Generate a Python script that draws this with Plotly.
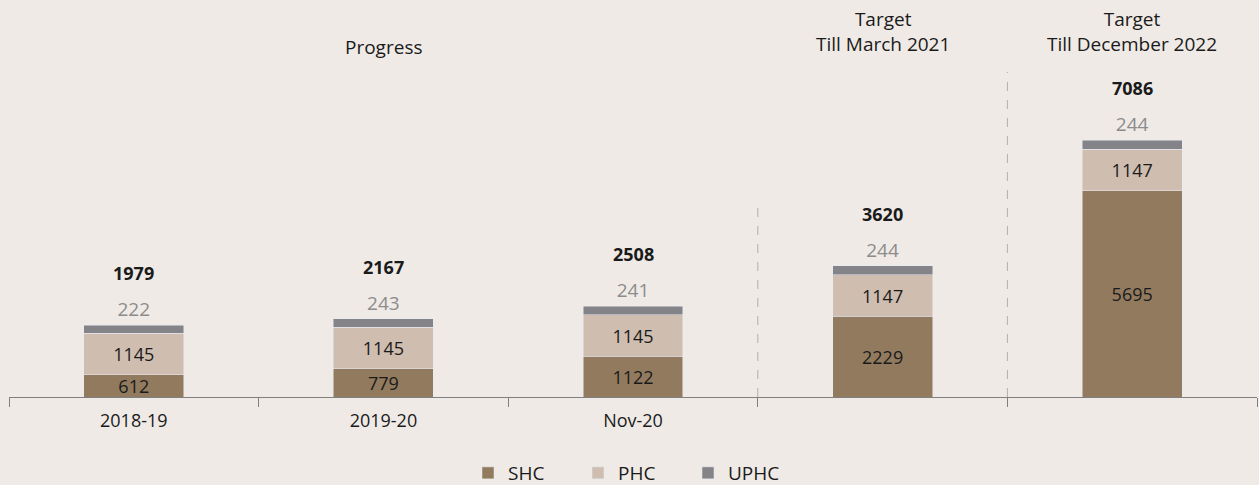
import plotly.graph_objects as go

categories = ["2018-19", "2019-20", "Nov-20", "", ""]
shc = [612, 779, 1122, 2229, 5695]
phc = [1145, 1145, 1145, 1147, 1147]
uphc = [222, 243, 241, 244, 244]
totals = [1979, 2167, 2508, 3620, 7086]
group_labels = ["Progress", "Target<br>Till March 2021", "Target<br>Till December 2022"]
group_pos = [1, 3, 4]

BG = "#efeae6"
C_SHC = "#927a5f"
C_PHC = "#cfbdb0"
C_UPHC = "#838388"
FONT = "Open Sans"
TXT = "#1a1a1a"

W, H = 1259, 485
T, B, L, R = 10, 88, 9, 2
plot_h = H - T - B
scale = 0.0362  # px per unit
ymax = plot_h / scale

x = list(range(len(categories)))

fig = go.Figure()
fig.add_trace(go.Bar(x=x, y=shc, name="SHC", marker_color=C_SHC, width=0.4,
                     text=[str(v) for v in shc], textposition="inside",
                     insidetextanchor="middle", constraintext="none",
                     textfont=dict(color=TXT, size=18, family=FONT)))
fig.add_trace(go.Bar(x=x, y=phc, name="PHC", marker_color=C_PHC, width=0.4,
                     text=[str(v) for v in phc], textposition="inside",
                     insidetextanchor="middle", constraintext="none",
                     textfont=dict(color=TXT, size=18, family=FONT)))
fig.add_trace(go.Bar(x=x, y=uphc, name="UPHC", marker_color=C_UPHC, width=0.4,
                     text=[str(v) for v in uphc], textposition="outside",
                     constraintext="none",
                     textfont=dict(color="#8c8c8c", size=19, family=FONT),
                     cliponaxis=False))

for i, t in enumerate(totals):
    fig.add_annotation(x=x[i], y=t, text=f"<b>{t}</b>", showarrow=False,
                       yshift=52, font=dict(size=18, family=FONT, color=TXT))

def py(pix):
    return (H - B - pix) / plot_h

for g, p in zip(group_labels, group_pos):
    ypix = 47 if "<br>" not in g else 32
    fig.add_annotation(x=p, y=py(ypix), yref="paper", text=g, showarrow=False,
                       font=dict(size=19, family=FONT, color=TXT), yanchor="middle")

for xv, top in [(2.5, 207), (3.5, 72)]:
    fig.add_shape(type="line", x0=xv, x1=xv, y0=0, y1=py(top), yref="paper",
                  line=dict(color="#b0b0b0", width=1, dash="dash"))

fig.update_layout(
    width=W, height=H, barmode="stack",
    paper_bgcolor=BG, plot_bgcolor=BG,
    margin=dict(t=T, b=B, l=L, r=R, autoexpand=False),
    font=dict(family=FONT, size=18, color=TXT),
    showlegend=True,
    legend=dict(orientation="h", x=0.5, xanchor="center", y=py(473), yanchor="middle",
                font=dict(size=19, family=FONT, color=TXT), itemwidth=30,
                entrywidth=65, entrywidthmode="pixels",
                bgcolor="rgba(0,0,0,0)", traceorder="normal"),
)
fig.update_xaxes(range=[-0.5, len(categories) - 0.5], tickmode="array", tickvals=x,
                 ticktext=categories, ticks="", showgrid=False, zeroline=False,
                 showline=True, linecolor="#808080", linewidth=1,
                 tickfont=dict(size=18, family=FONT, color=TXT), ticklabelstandoff=7,
                 minor=dict(tickmode="linear", tick0=-0.5, dtick=1, ticks="outside",
                            ticklen=9, tickcolor="#808080", tickwidth=1, showgrid=False))
fig.update_yaxes(range=[0, ymax], visible=False, showgrid=False, zeroline=False)

fig.write_html("out.html", config={"displayModeBar": False}, post_script=(
    "document.body.style.margin='0';document.body.style.padding='0';"
    "document.documentElement.style.overflow='hidden';"
    "document.body.style.background='" + BG + "';"))
